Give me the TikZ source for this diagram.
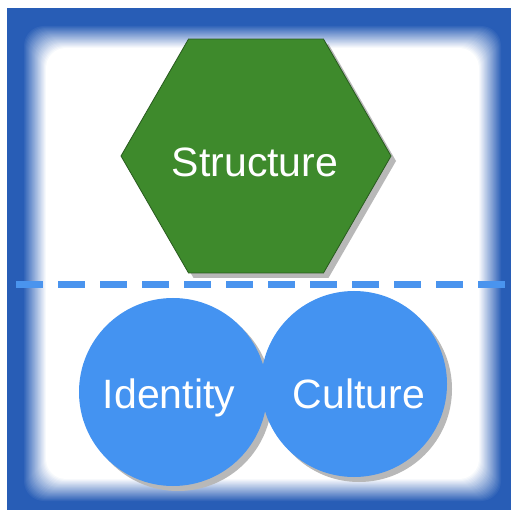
\documentclass[tikz,border=0pt]{standalone}
\usepackage{fontspec}
\setmainfont{Liberation Sans}
\usetikzlibrary{shapes.geometric,shadows}

\definecolor{frameblue}{RGB}{40,93,182}
\definecolor{hexgreen}{RGB}{62,138,44}
\definecolor{hexedge}{RGB}{40,90,30}
\definecolor{circblue}{RGB}{68,147,241}
\definecolor{lineblue}{RGB}{74,148,238}

\tikzset{
  softshadow/.style={drop shadow={shadow xshift=5pt, shadow yshift=-5pt, fill=black!28, opacity=1}},
  hexshape/.style={regular polygon, regular polygon sides=6, minimum size=270pt,
    inner sep=0pt, fill=hexgreen, draw=hexedge, line width=0.8pt, softshadow},
  bubble/.style={circle, inner sep=0pt, fill=circblue, softshadow},
  lbl/.style={anchor=base, text=white, inner sep=0pt, font=\fontsize{41}{49}\selectfont},
  divider/.style={draw=lineblue, line width=7pt, dash pattern=on 27pt off 15pt}
}

\begin{document}
\begin{tikzpicture}[x=1pt, y=-1pt]
  \useasboundingbox (0,0) rectangle (511,510);
  \fill[white] (0,0) rectangle (511,510);

  % blue frame with a soft inner edge
  \fill[frameblue] (7,8) rectangle (511,510);
  \foreach \i in {0,...,23} {
    \pgfmathtruncatemacro\pct{100-100*\i/23}
    \fill[frameblue!\pct!white, rounded corners=20pt] (23+\i,25+\i) rectangle (502-\i,502-\i);
  }

  % upper level
  \node[hexshape] (structure) at (256,156) {};
  \node[lbl] (structure-label) at (255,177) {Structure};

  % divider
  \coordinate (dashL) at (16,285);
  \coordinate (dashR) at (511,285);
  \draw[divider] (dashL) -- (dashR);

  % lower level
  \node[bubble, minimum size=188pt] (identity) at (173,392) {};
  \node[bubble, minimum size=186pt] (culture) at (354,384) {};
  \node[lbl] (identity-label) at (169,408) {Identity};
  \node[lbl] (culture-label) at (359,408) {Culture};
\end{tikzpicture}
\end{document}
